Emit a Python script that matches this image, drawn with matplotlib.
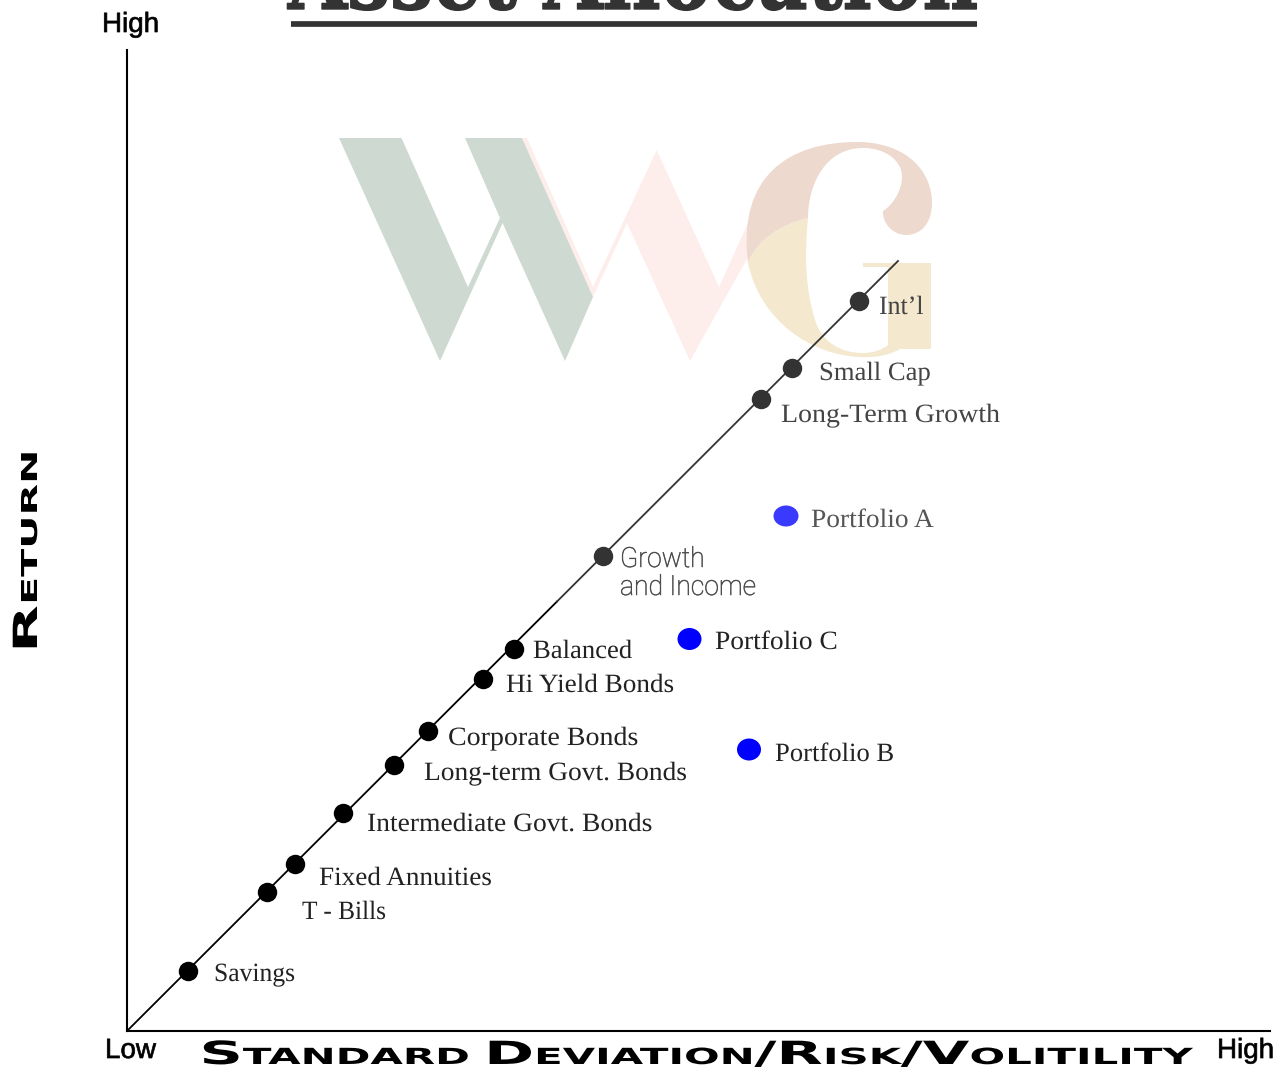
import matplotlib
matplotlib.use("Agg")
import matplotlib.pyplot as plt
from matplotlib.patches import Ellipse, PathPatch, Polygon
from matplotlib.path import Path
from matplotlib.patheffects import AbstractPathEffect
from matplotlib.transforms import Affine2D

W, H = 1285, 1067

# risk / return, in axis units
asset_names = ["Savings", "T - Bills", "Fixed Annuities", "Intermediate Govt. Bonds",
               "Long-term Govt. Bonds", "Corporate Bonds", "Hi Yield Bonds", "Balanced",
               "Growth\nand Income", "Long-Term Growth", "Small Cap", "Int\u2019l"]
asset_risk = [61, 140, 168, 216, 267, 301, 356, 387, 476, 634, 665, 732]
asset_return = [60, 139, 167, 218, 266, 300, 352, 382, 475, 632, 663, 730]

portfolio_names = ["Portfolio A", "Portfolio C", "Portfolio B"]
portfolio_risk = [659, 562.5, 622]
portfolio_return = [515, 392, 281.5]

line_risk = [0, 430, 771]
line_return = [0, 429.5, 770]

# label anchors in image pixels (left, baseline)
asset_label_xy = [(214, 981), (302, 919), (319, 885), (367, 831), (424, 780), (448, 745),
                  (506, 692), (533, 658), (620, 567), (781, 422), (819, 380), (879, 314)]
asset_label_sx = [0.97, 0.96, 1.03, 1.044, 1.04, 1.06, 1.03, 1.01, 0.955, 1.058, 1.01, 0.98]
portfolio_label_xy = [(811, 527), (715, 649), (775, 761)]
portfolio_label_sx = [1.04, 1.04, 1.01]


class Stretch(AbstractPathEffect):
    # widen text along its own baseline, fonts here have no extended cut
    def __init__(self, sx=1.0, lw=0.0):
        super().__init__()
        self.sx = sx
        self.lw = lw

    def draw_path(self, renderer, gc, tpath, affine, rgbFace=None):
        gc0 = renderer.new_gc()
        gc0.copy_properties(gc)
        gc0.set_linewidth(self.lw)
        renderer.draw_path(gc0, tpath, Affine2D().scale(self.sx, 1) + affine, rgbFace)
        gc0.restore()


def small_caps(fig, bg, x, y, runs, big, small, sx, vertical=False):
    renderer = fig.canvas.get_renderer()
    pos = x if not vertical else y
    for chunk, is_big in runs:
        size = big if is_big else small
        t = bg.text(x if vertical else pos, pos if vertical else y, chunk, fontsize=size,
                    family="DejaVu Sans", weight="bold", color="black",
                    ha="left", va="baseline", rotation=90 if vertical else 0,
                    rotation_mode="anchor", path_effects=[Stretch(sx)])
        ext = t.get_window_extent(renderer)
        adv = (ext.height if vertical else ext.width) * sx
        pos = pos - adv if vertical else pos + adv


def draw_logo(bg):
    green = [(339, 138), (401.5, 138), (468, 287), (500, 218), (465, 138), (522, 138),
             (593, 297), (565, 361), (502.6, 223), (440, 361)]
    pink = [(522, 138), (527, 138), (593, 287), (656.7, 150), (719, 287), (748, 223),
            (748, 257), (690, 361), (627, 223), (593, 297)]
    bg.add_patch(Polygon(pink, closed=True, fc="#fdeeec", ec="none"))
    bg.add_patch(Polygon(green, closed=True, fc="#cdd9d1", ec="none"))

    M, L, C = Path.MOVETO, Path.LINETO, Path.CURVE4
    upper = [((748, 263), M),
             ((737, 175), C), ((790, 142), C), ((857, 142), C),
             ((905, 142), C), ((932, 170), C), ((932, 203), C),
             ((932, 222), C), ((922, 235), C), ((906, 235), C),
             ((892, 235), C), ((882, 222), C), ((883, 211), C),
             ((893, 205), C), ((902, 190), C), ((902, 177), C),
             ((902, 160), C), ((885, 148), C), ((863, 148), C),
             ((825, 148), C), ((808, 185), C), ((808, 218), C),
             ((780, 225), C), ((757, 240), C), ((748, 263), C)]
    lower = [((748, 263), M),
             ((757, 240), C), ((780, 225), C), ((808, 218), C),
             ((804, 260), C), ((806, 290), C), ((815, 320), C),
             ((822, 342), C), ((840, 353), C), ((863, 353), C),
             ((873, 353), C), ((882, 350), C), ((888, 345), C),
             ((888, 267), L), ((863, 267), L), ((863, 263), L), ((931, 263), L),
             ((931, 349), L), ((900, 349), L),
             ((890, 355), C), ((875, 358), C), ((860, 357), C),
             ((810, 355), C), ((760, 320), C), ((748, 263), C)]
    for part, color in ((upper, "#eed9cf"), (lower, "#f4e8ce")):
        verts, codes = zip(*part)
        bg.add_patch(PathPatch(Path(verts, codes), fc=color, ec="none"))


def main():
    fig = plt.figure(figsize=(W / 100, H / 100), dpi=100)

    # full figure layer in image pixels, for the logo and the text
    bg = fig.add_axes([0, 0, 1, 1], zorder=0)
    bg.set_xlim(0, W)
    bg.set_ylim(H, 0)
    bg.axis("off")

    draw_logo(bg)

    ax = fig.add_axes([127 / W, 1 - 1031 / H, (1270 - 127) / W, (1031 - 50) / H], zorder=1)
    ax.patch.set_visible(False)
    ax.set_xlim(0, 1143)
    ax.set_ylim(0, 981)
    ax.set_xticks([])
    ax.set_yticks([])
    for side in ("top", "right"):
        ax.spines[side].set_visible(False)
    for side in ("left", "bottom"):
        ax.spines[side].set_linewidth(1.5)

    ax.plot(line_risk[:2], line_return[:2], color="black", lw=1.3, zorder=2)
    ax.plot(line_risk[1:], line_return[1:], color="#333333", lw=1.3, zorder=2)
    for i in range(len(asset_names)):
        color = "black" if i < 8 else "#333333"
        ax.plot(asset_risk[i], asset_return[i], "o", ms=14, color=color, mec="none", zorder=3)
    portfolio_colors = ["#3a3aff", "#0000ff", "#0000ff"]
    portfolio_w = [25, 24, 24]
    portfolio_h = [21, 22, 22]
    for i in range(len(portfolio_names)):
        ax.add_patch(Ellipse((portfolio_risk[i], portfolio_return[i]), portfolio_w[i],
                             portfolio_h[i], fc=portfolio_colors[i], ec="none", zorder=3))

    for i, name in enumerate(asset_names):
        x, y = asset_label_xy[i]
        if "Growth\n" in name:
            first, second = name.split("\n")
            for line, yy in ((first, y), (second, y + 28)):
                bg.text(x, yy, line, fontsize=20, family="Roboto", weight="light", color="#444444",
                        va="baseline", path_effects=[Stretch(asset_label_sx[i], 0.4)])
        else:
            color = "#444444" if i >= 9 else "#222222"
            bg.text(x, y, name, fontsize=19, family="Liberation Serif", color=color,
                    va="baseline", path_effects=[Stretch(asset_label_sx[i])])
    for i, name in enumerate(portfolio_names):
        x, y = portfolio_label_xy[i]
        color = "#555555" if i == 0 else "#222222"
        bg.text(x, y, name, fontsize=19, family="Liberation Serif", color=color,
                va="baseline", path_effects=[Stretch(portfolio_label_sx[i])])

    for x, y, s in ((102, 32, "High"), (105, 1058, "Low"), (1217, 1058, "High")):
        bg.text(x, y, s, fontsize=20, family="Liberation Sans", color="black",
                va="baseline", path_effects=[Stretch(1.0, 0.5)])

    # title runs off the top of the image
    bg.text(288, 9, "Asset Allocation", fontsize=68, family="DejaVu Serif", weight="bold",
            color="#333333", va="baseline", path_effects=[Stretch(0.808, 1.0)])
    bg.plot([291, 977], [23.9, 23.9], color="#333333", lw=4.1, solid_capstyle="butt")

    small_caps(fig, bg, 199.5, 1064,
               [("S", True), ("TANDARD ", False), ("D", True), ("EVIATION", False),
                ("/R", True), ("ISK", False), ("/V", True), ("OLITILITY", False)],
               23, 16, 1.885)
    small_caps(fig, bg, 37, 653, [("R", True), ("ETURN", False)], 24, 15.8, 1.87, vertical=True)

    fig.savefig("out.png", dpi=100)


if __name__ == "__main__":
    main()
